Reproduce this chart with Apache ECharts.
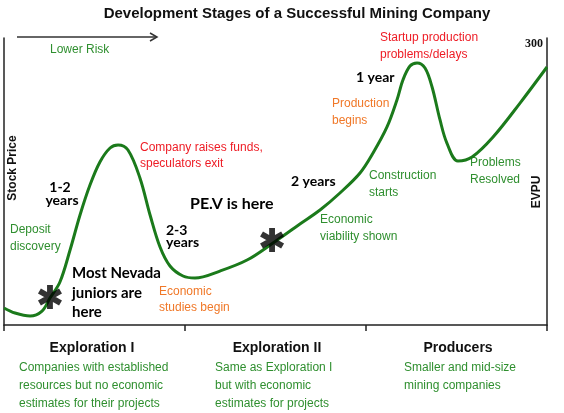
<!DOCTYPE html>
<html>
<head>
<meta charset="utf-8">
<script src="https://cdn.jsdelivr.net/npm/echarts@6/dist/echarts.min.js"></script>
<style>html,body{margin:0;padding:0;background:#fff}#c{width:564px;height:413px}</style>
</head>
<body>
<div id="c"></div>
<script>
// Stage position along the horizontal axis (0..3, one unit per stage)
const curveX = [0, 0.061, 0.144, 0.21, 0.254, 0.309, 0.365, 0.42, 0.475, 0.53, 0.586, 0.63, 0.685, 0.751, 0.807, 0.862, 0.917, 0.989, 1.055, 1.193, 1.343, 1.486, 1.635, 1.746, 1.856, 1.967, 2.039, 2.116, 2.171, 2.204, 2.243, 2.282, 2.326, 2.365, 2.409, 2.447, 2.508, 2.586, 2.702, 2.851, 3.0];
// Stock price (relative, 0..300)
const curveY = [17.8, 12.5, 9.4, 14.6, 28.2, 44.9, 78.4, 115, 146.3, 170.4, 185, 188.2, 182.9, 153.7, 115, 81.5, 61.7, 51.2, 49.1, 56.4, 67.9, 85.7, 105.6, 120.2, 138, 158.9, 179.8, 207, 235.2, 256.1, 270.7, 273.9, 268.6, 248.8, 214.3, 190.2, 171.5, 175.6, 196.5, 232, 269.7];
// Star markers ("Most Nevada juniors are here", "PE.V is here")
const starX = [0.254, 1.481];
const starY = [29.3, 88.9];
const stageTicks = [0, 1, 2, 3];
const yMax = 300;
const stageNames = ['Exploration I', 'Exploration II', 'Producers'];
const stageDesc = [
  ['Companies with established', 'resources but no economic', 'estimates for their projects'],
  ['Same as Exploration I', 'but with economic', 'estimates for projects'],
  ['Smaller and mid-size', 'mining companies']
];

const GREEN = '#2f8f2f', RED = '#ee1c25', ORANGE = '#f07828', LINE = '#1b7a1b';
const SANS = '"Liberation Sans", Arial, sans-serif';
const CAL = 'Lato, "Open Sans", sans-serif';

function txt(x, y, text, fill, font, align) {
  return { type: 'text', x: x, y: y, silent: true,
    style: { text: text, fill: fill, font: font, textAlign: align || 'left', textVerticalAlign: 'middle' } };
}

const graphics = [
  txt(297, 14, 'Development Stages of a Successful Mining Company', '#111', 'bold 15px ' + SANS, 'center'),
  { type: 'line', shape: { x1: 17, y1: 37, x2: 157, y2: 37 }, style: { stroke: '#333', lineWidth: 1.5 } },
  { type: 'polyline', shape: { points: [[150, 33], [157, 37], [150, 41]] }, style: { stroke: '#333', lineWidth: 1.5, fill: null } },
  txt(50, 50, 'Lower Risk', GREEN, '12px ' + SANS),
  txt(380, 38, 'Startup production', RED, '12px ' + SANS),
  txt(380, 55, 'problems/delays', RED, '12px ' + SANS),
  txt(356, 77, '1 year', '#000', 'bold 14px ' + CAL),
  txt(332, 104, 'Production', ORANGE, '12px ' + SANS),
  txt(332, 121, 'begins', ORANGE, '12px ' + SANS),
  txt(140, 148, 'Company raises funds,', RED, '12px ' + SANS),
  txt(140, 164, 'speculators exit', RED, '12px ' + SANS),
  { type: 'text', x: 13, y: 168, rotation: Math.PI / 2, silent: true,
    style: { text: 'Stock Price', fill: '#111', font: 'bold 12px ' + SANS, textAlign: 'center', textVerticalAlign: 'middle' } },
  { type: 'text', x: 537, y: 192, rotation: Math.PI / 2, silent: true,
    style: { text: 'EVPU', fill: '#111', font: 'bold 12px ' + SANS, textAlign: 'center', textVerticalAlign: 'middle' } },
  txt(60, 187, '1-2', '#000', 'bold 14px ' + CAL, 'center'),
  txt(62, 200, 'years', '#000', 'bold 14px ' + CAL, 'center'),
  txt(291, 181, '2 years', '#000', 'bold 14px ' + CAL),
  txt(369, 176, 'Construction', GREEN, '12px ' + SANS),
  txt(369, 193, 'starts', GREEN, '12px ' + SANS),
  txt(470, 163, 'Problems', GREEN, '12px ' + SANS),
  txt(470, 180, 'Resolved', GREEN, '12px ' + SANS),
  txt(190, 204, 'PE.V is here', '#000', 'bold 16px ' + CAL),
  txt(10, 230, 'Deposit', GREEN, '12px ' + SANS),
  txt(10, 247, 'discovery', GREEN, '12px ' + SANS),
  txt(166, 230, '2-3', '#000', 'bold 14px ' + CAL),
  txt(166, 242, 'years', '#000', 'bold 14px ' + CAL),
  txt(320, 220, 'Economic', GREEN, '12px ' + SANS),
  txt(320, 237, 'viability shown', GREEN, '12px ' + SANS),
  txt(72, 273, 'Most Nevada', '#000', 'bold 15px ' + CAL),
  txt(72, 293, 'juniors are', '#000', 'bold 15px ' + CAL),
  txt(72, 312, 'here', '#000', 'bold 15px ' + CAL),
  txt(159, 292, 'Economic', ORANGE, '12px ' + SANS),
  txt(159, 308, 'studies begin', ORANGE, '12px ' + SANS)
];
const stageCenters = [92, 277, 458];
const descX = [19, 215, 404];
stageNames.forEach((n, i) => {
  graphics.push(txt(stageCenters[i], 348, n, '#111', 'bold 14px ' + SANS, 'center'));
  stageDesc[i].forEach((l, j) => graphics.push(txt(descX[i], 368 + j * 18, l, GREEN, '12px ' + SANS)));
});

const starPath = 'path://M-2.4,-10L2.4,-10L2.4,10L-2.4,10Z M7.46,-7.08L9.86,-2.92L-7.46,7.08L-9.86,2.92Z M-9.86,-2.92L-7.46,-7.08L9.86,2.92L7.46,7.08Z';

const chart = echarts.init(document.getElementById('c'), null, { renderer: 'canvas' });
chart.setOption({
  animation: false,
  backgroundColor: '#fff',
  grid: { left: 4, right: 17, top: 38, bottom: 88 },
  xAxis: {
    type: 'value', min: stageTicks[0], max: stageTicks[stageTicks.length - 1], interval: 1,
    axisLine: { show: true, lineStyle: { color: '#222', width: 1.5 } },
    axisTick: { show: true, length: 6, lineStyle: { color: '#222', width: 1.5 } },
    axisLabel: { show: false }, splitLine: { show: false }
  },
  yAxis: [
    { type: 'value', min: 0, max: yMax, interval: yMax, position: 'left',
      axisLine: { show: true, lineStyle: { color: '#222', width: 1.5 } },
      axisTick: { show: false }, axisLabel: { show: false }, splitLine: { show: false } },
    { type: 'value', min: 0, max: yMax, interval: yMax, position: 'right',
      axisLine: { show: true, lineStyle: { color: '#222', width: 1.5 } },
      axisTick: { show: false }, splitLine: { show: false },
      axisLabel: { show: true, inside: true, margin: 4, verticalAlign: 'top', color: '#111',
        fontFamily: '"Liberation Serif", serif', fontWeight: 'bold', fontSize: 12,
        formatter: v => (v === yMax ? String(yMax) : '') } }
  ],
  series: [
    { type: 'line', smooth: 0.35, symbol: 'none', yAxisIndex: 0,
      lineStyle: { color: LINE, width: 3 },
      data: curveX.map((x, i) => [x, curveY[i]]) },
    { type: 'scatter', symbol: starPath, symbolSize: 24, yAxisIndex: 0, z: 5,
      itemStyle: { color: '#000' },
      data: starX.map((x, i) => [x, starY[i]]) }
  ],
  graphic: graphics
});
</script>
</body>
</html>
